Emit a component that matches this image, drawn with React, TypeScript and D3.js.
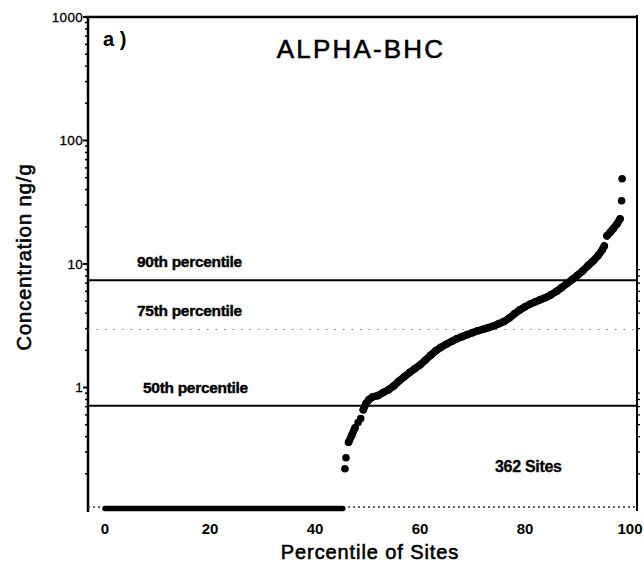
import React from "react";
import * as d3 from "d3";

// ---- data ----
const percentiles = [
  45.7, 45.9, 46.4, 47.0, 47.6, 48.2, 48.7, 49.2, 49.7, 50.3, 51.0, 52.0, 53.0, 54.0, 55.0,
  56.0, 57.0, 58.0, 59.0, 60.0, 61.0, 62.0, 63.0, 64.0, 65.0, 66.0, 67.0, 68.0, 69.0, 70.0,
  71.0, 72.0, 73.0, 74.0, 75.0, 76.0, 77.0, 78.0, 79.0, 80.0, 81.0, 82.0, 83.0, 84.0, 85.0,
  86.0, 87.0, 88.0, 89.0, 90.0, 91.0, 92.0, 93.0, 94.0, 94.7, 95.1, 95.6, 96.2, 96.8, 97.5,
  98.1, 98.4, 98.5,
];
const concentrations = [
  0.22, 0.27, 0.36, 0.41, 0.47, 0.52, 0.56, 0.66, 0.74, 0.8, 0.84, 0.86, 0.91, 0.96, 1.03,
  1.13, 1.22, 1.32, 1.42, 1.52, 1.66, 1.82, 1.98, 2.12, 2.24, 2.36, 2.48, 2.58, 2.68, 2.78,
  2.88, 2.96, 3.05, 3.15, 3.28, 3.42, 3.65, 3.95, 4.25, 4.5, 4.75, 4.95, 5.15, 5.35, 5.65,
  6.0, 6.45, 6.95, 7.5, 8.1, 8.8, 9.7, 10.6, 11.8, 13.0, 14.0, 16.9, 18.0, 19.3, 21.0,
  23.2, 32.5, 49,
];
// stretches where the plotted sites touch each other (percentile ranges)
const contiguousRanges = [
  [46.4, 47.6],
  [49.2, 95.1],
  [95.6, 98.1],
];
// non-detect sites plotted along the bottom
const nonDetectRange = [0, 45.3];
const nonDetectValue = 0.105;

const refLabels = ["90th percentile", "75th percentile", "50th percentile"];
const refValues = [7.4, 2.95, 0.71];
const refDotted = [false, true, false];

const xTicks = [0, 20, 40, 60, 80, 100];
const yTicks = [1000, 100, 10, 1];
const yTickLabels = ["1000", "100", "10", "1"];

const title = "ALPHA-BHC";
const panelLabel = "a )";
const sitesLabel = "362 Sites";
const xLabel = "Percentile of Sites";
const yLabel = "Concentration ng/g";

// ---- layout ----
const W = 644;
const H = 568;
const left = 88;
const right = 637;
const top = 17;
const bottom = 511;
const FONT = "'Liberation Sans', Arial, Helvetica, sans-serif";

export default function App() {
  const x = d3.scaleLinear().domain([0, 100]).range([105, 630]);
  const y = d3.scaleLog().domain([0.1, 1000]).range([bottom, top]);

  const minorTicks: number[] = [];
  [0.1, 1, 10, 100].forEach((dec) => {
    for (let k = 2; k <= 9; k++) minorTicks.push(dec * k);
  });

  const pts = percentiles.map((p, i) => [p, concentrations[i]] as [number, number]);
  const line = d3
    .line<[number, number]>()
    .x((d) => x(d[0]))
    .y((d) => y(d[1]));

  return (
    <svg
      width={W}
      height={H}
      style={{ position: "absolute", left: 0, top: 0, background: "#fff" }}
      fontFamily={FONT}
    >
      <rect x={0} y={0} width={W} height={H} fill="#fff" />

      {/* frame */}
      <line x1={left - 3} x2={right} y1={top} y2={top} stroke="#000" strokeWidth={2.5} />
      <line x1={left} x2={left} y1={top} y2={bottom + 1} stroke="#000" strokeWidth={2.5} />
      <line x1={right} x2={right} y1={top - 2} y2={bottom} stroke="#000" strokeWidth={2} />
      <line
        x1={left}
        x2={right}
        y1={bottom - 4}
        y2={bottom - 4}
        stroke="#333"
        strokeWidth={1.3}
        strokeDasharray="2 3"
      />

      {/* left axis ticks */}
      {yTicks.map((t) => (
        <line key={"mj" + t} x1={left - 5} x2={left} y1={y(t)} y2={y(t)} stroke="#000" strokeWidth={2} />
      ))}
      {minorTicks.map((t) => (
        <line key={"mn" + t} x1={left - 3} x2={left} y1={y(t)} y2={y(t)} stroke="#000" strokeWidth={1.5} />
      ))}
      {/* right axis ticks (lower part) */}
      {minorTicks
        .filter((t) => t <= 10)
        .map((t) => (
          <line key={"rm" + t} x1={right} x2={right + 3} y1={y(t)} y2={y(t)} stroke="#000" strokeWidth={1.3} />
        ))}

      {yTicks.map((t, i) => (
        <text
          key={"yl" + t}
          x={left - 5}
          y={y(t) + 1}
          textAnchor="end"
          dominantBaseline="middle"
          fontSize={13.5}
          letterSpacing={0.3}
          fill="#000"
          stroke="#000"
          strokeWidth={0.3}
        >
          {yTickLabels[i]}
        </text>
      ))}

      {xTicks.map((t) => (
        <text
          key={"xl" + t}
          x={x(t)}
          y={534}
          textAnchor="middle"
          fontSize={15}
          fontWeight="bold"
          fill="#000"
        >
          {t}
        </text>
      ))}

      {/* reference percentile lines */}
      {refValues.map((v, i) => (
        <g key={"ref" + i}>
          <line
            x1={left}
            x2={right}
            y1={y(v)}
            y2={y(v)}
            stroke={refDotted[i] ? "#777" : "#000"}
            strokeWidth={refDotted[i] ? 1.2 : 2}
            strokeDasharray={refDotted[i] ? "1.5 7" : undefined}
          />
          <text
            x={i === 2 ? 143 : 137}
            y={y(v) - 13}
            fontSize={15.5}
            fontWeight="bold"
            letterSpacing={-0.3}
            fill="#000"
            stroke="#000"
            strokeWidth={0.4}
          >
            {refLabels[i]}
          </text>
        </g>
      ))}

      {/* non-detects */}
      <line
        x1={x(nonDetectRange[0])}
        x2={x(nonDetectRange[1])}
        y1={y(nonDetectValue)}
        y2={y(nonDetectValue)}
        stroke="#000"
        strokeWidth={5.5}
        strokeLinecap="round"
      />

      {/* detected concentrations */}
      {contiguousRanges.map((r, k) => (
        <path
          key={"seg" + k}
          d={line(pts.filter((d) => d[0] >= r[0] && d[0] <= r[1])) || ""}
          fill="none"
          stroke="#000"
          strokeWidth={7.5}
          strokeLinecap="round"
          strokeLinejoin="round"
        />
      ))}
      {pts.map((d, i) => (
        <circle key={"pt" + i} cx={x(d[0])} cy={y(d[1])} r={3.8} fill="#000" />
      ))}

      {/* texts */}
      <text
        x={361}
        y={58}
        textAnchor="middle"
        fontSize={26}
        letterSpacing={2.2}
        fill="#000"
        stroke="#000"
        strokeWidth={0.6}
      >
        {title}
      </text>
      <text x={103} y={46} fontSize={20} fontWeight="bold" fill="#000">
        {panelLabel}
      </text>
      <text x={495} y={472} fontSize={16} fontWeight="bold" letterSpacing={-0.3} fill="#000" stroke="#000" strokeWidth={0.3}>
        {sitesLabel}
      </text>
      <text
        x={370}
        y={559}
        textAnchor="middle"
        fontSize={20}
        letterSpacing={0.9}
        fill="#000"
        stroke="#000"
        strokeWidth={0.6}
      >
        {xLabel}
      </text>
      <text
        transform={`translate(31, 257) rotate(-90)`}
        textAnchor="middle"
        fontSize={20}
        letterSpacing={1}
        fill="#000"
        stroke="#000"
        strokeWidth={0.6}
      >
        {yLabel}
      </text>
    </svg>
  );
}
